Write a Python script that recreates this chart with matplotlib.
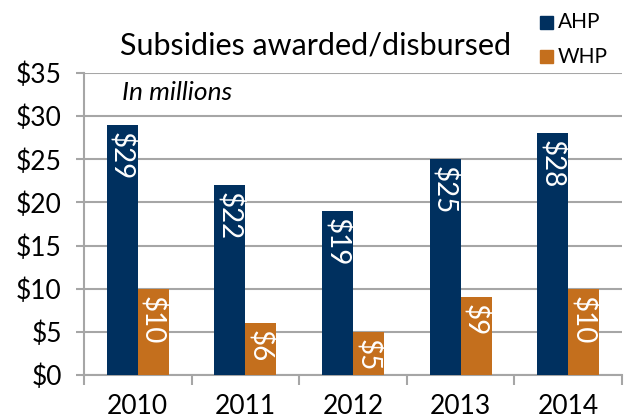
import matplotlib
matplotlib.use("Agg")
import matplotlib.pyplot as plt
import numpy as np
from matplotlib.patches import Rectangle

years = ["2010", "2011", "2012", "2013", "2014"]
ahp = [29, 22, 19, 25, 28]
whp = [10, 6, 5, 9, 10]
yticks = [0, 5, 10, 15, 20, 25, 30, 35]
ytick_labels = ["$0", "$5", "$10", "$15", "$20", "$25", "$30", "$35"]

navy = "#00305F"
orange = "#C46F1D"
grid = "#A6A6A6"

plt.rcParams['font.family'] = ['Lato', 'DejaVu Sans']

fig = plt.figure(figsize=(6.32, 4.18), dpi=100)
ax = fig.add_axes([84/632, 1-375/418, (622-84)/632, (375-73)/418])

x = np.arange(len(years))
w = 0.288
b1 = ax.bar(x - w/2, ahp, width=w, color=navy, zorder=3)
b2 = ax.bar(x + w/2, whp, width=w, color=orange, zorder=3)

for rects, vals in ((b1, ahp), (b2, whp)):
    for r, v in zip(rects, vals):
        ax.annotate(f"${v}", (r.get_x() + r.get_width()/2, v),
                    xytext=(0, -5), textcoords="offset points",
                    rotation=270, ha="center", va="top", color="white",
                    fontsize=20, zorder=4)

ax.set_xlim(-0.5, len(years) - 0.5)
ax.set_ylim(0, 35)
ax.set_yticks(yticks)
ax.set_yticklabels(ytick_labels, fontsize=19)
ax.yaxis.grid(True, color=grid, lw=1.5, zorder=0)
ax.set_xticks(x)
ax.set_xticklabels(years, fontsize=19)
ax.set_xticks(np.arange(-0.5, len(years)), minor=True)
ax.tick_params(axis="x", which="major", length=0, pad=14)
ax.tick_params(axis="x", which="minor", length=7, width=1.5, color=grid)
ax.tick_params(axis="y", length=6, width=1.5, color=grid, pad=10)

for s in ("top", "right"):
    ax.spines[s].set_visible(False)
for s in ("left", "bottom"):
    ax.spines[s].set_color(grid)
    ax.spines[s].set_linewidth(1.5)

fig.text(120/632, 1-45/418, "Subsidies awarded/disbursed", fontsize=22,
         ha="left", va="center")
fig.text(122/632, 1-92/418, "In millions", fontsize=19, style="italic",
         ha="left", va="center")

# legend
fig.patches.append(Rectangle((540/632, 1-29/418), 13/632, 13/418,
                             transform=fig.transFigure, color=navy, figure=fig))
fig.patches.append(Rectangle((540/632, 1-63/418), 13/632, 13/418,
                             transform=fig.transFigure, color=orange, figure=fig))
fig.text(558/632, 1-22/418, "AHP", fontsize=15, ha="left", va="center")
fig.text(558/632, 1-57/418, "WHP", fontsize=15, ha="left", va="center")

fig.savefig("out.png", dpi=100)
